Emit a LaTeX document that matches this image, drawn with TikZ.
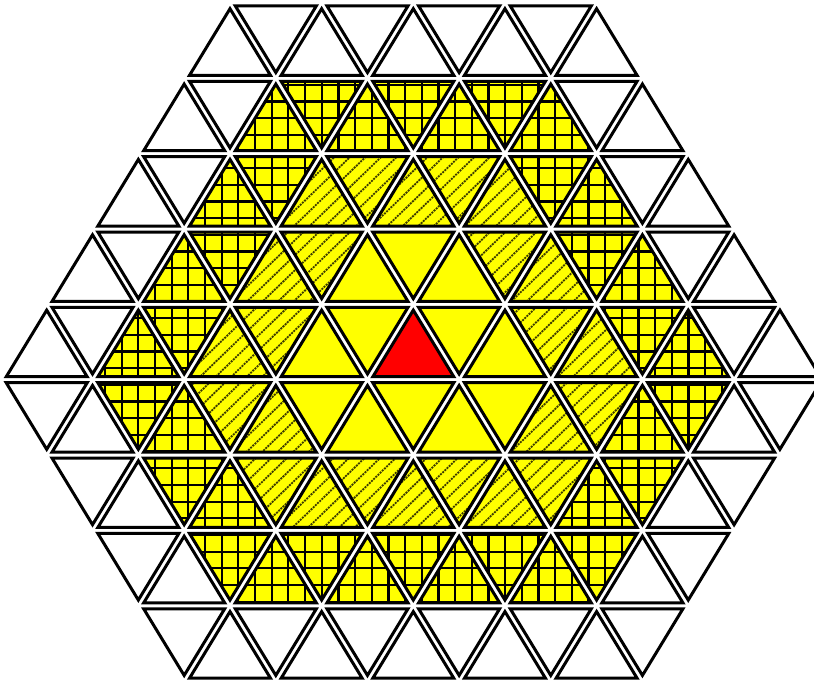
\documentclass[tikz,border=0pt]{standalone}
\definecolor{yel}{RGB}{255,255,0}
\definecolor{rd}{RGB}{255,0,0}
\definecolor{hatchc}{RGB}{60,60,0}
\newcommand{\gpx}{91.65}
\newcommand{\gpy}{75.36}
\newcommand{\gxo}{596.6}
\newcommand{\gyo}{2.94}
\newcommand{\PP}[2]{({\gxo+\gpx*(#2)-0.5*\gpx*(#1)},{\gyo+\gpy*(#1)})}
\newcommand{\hexpath}[1]{\PP{4-#1}{-#1} -- \PP{4-#1}{0} -- \PP{5}{#1+1} -- \PP{5+#1}{#1+1} -- \PP{5+#1}{0} -- \PP{5}{-#1} -- cycle}
\tikzset{
  gapline/.style={white, line width=6pt},
  triline/.style={black, line width=3pt, line join=miter},
  gridline/.style={black, line width=2.2pt},
  hatchline/.style={hatchc, line width=1.8pt, dash pattern=on 2pt off 1pt},
}
\begin{document}
\begin{tikzpicture}[x=1pt,y=-1pt]
\useasboundingbox (0,0) rectangle (814,681);
\fill[white] (0,0) rectangle (814,681);
% yellow area
\fill[yel] \hexpath{3};
% grid ring
\begin{scope}[even odd rule]
\clip \hexpath{3} \hexpath{2};
\foreach \i in {0,...,45} \draw[gridline] ({5+16.67*\i},60) -- ({5+16.67*\i},620);
\foreach \i in {0,...,40} \draw[gridline] (80,{1.5+16.67*\i}) -- (750,{1.5+16.67*\i});
\end{scope}
% hatch ring
\begin{scope}[even odd rule]
\clip \hexpath{2} \hexpath{1};
\foreach \i in {10,...,80} \draw[hatchline] (0,{15*\i}) -- (900,{15*\i-869});
\end{scope}
% red centre
\fill[rd] \PP{4}{0} -- \PP{5}{0} -- \PP{5}{1} -- cycle;
% white gaps along the lattice lines
\foreach \j in {0,...,9} \draw[gapline] (-20,{\gyo+\gpy*\j}) -- (840,{\gyo+\gpy*\j});
\foreach \k in {-5,...,6} \draw[gapline] \PP{-1}{\k} -- \PP{10}{\k};
\foreach \m in {-10,...,1} \draw[gapline] \PP{-1}{\m-1} -- \PP{10}{\m+10};
% triangle outlines
\foreach \r in {0,...,8} {
  \foreach \k in {-4,...,4} {
    \pgfmathsetmacro{\ax}{\gxo+\gpx*\k-0.5*\gpx*\r}
    \pgfmathsetmacro{\ay}{\gyo+\gpy*\r}
    \pgfmathtruncatemacro{\dU}{max(abs(\r-4),abs(\k),abs(\k-\r+4))}
    \ifnum\dU<5
      \draw[triline] ({\ax},{\ay+5.774}) -- ({\ax+40.49},{\ay+\gpy-3}) -- ({\ax-40.49},{\ay+\gpy-3}) -- cycle;
    \fi
    \pgfmathtruncatemacro{\dD}{max(abs(\r-4),abs(\k),abs(\k-\r+5))}
    \ifnum\dD<5
      \draw[triline] ({\ax+45.825},{\ay+\gpy-5.774}) -- ({\ax+45.825-40.49},{\ay+3}) -- ({\ax+45.825+40.49},{\ay+3}) -- cycle;
    \fi
  }
}
\end{tikzpicture}
\end{document}
